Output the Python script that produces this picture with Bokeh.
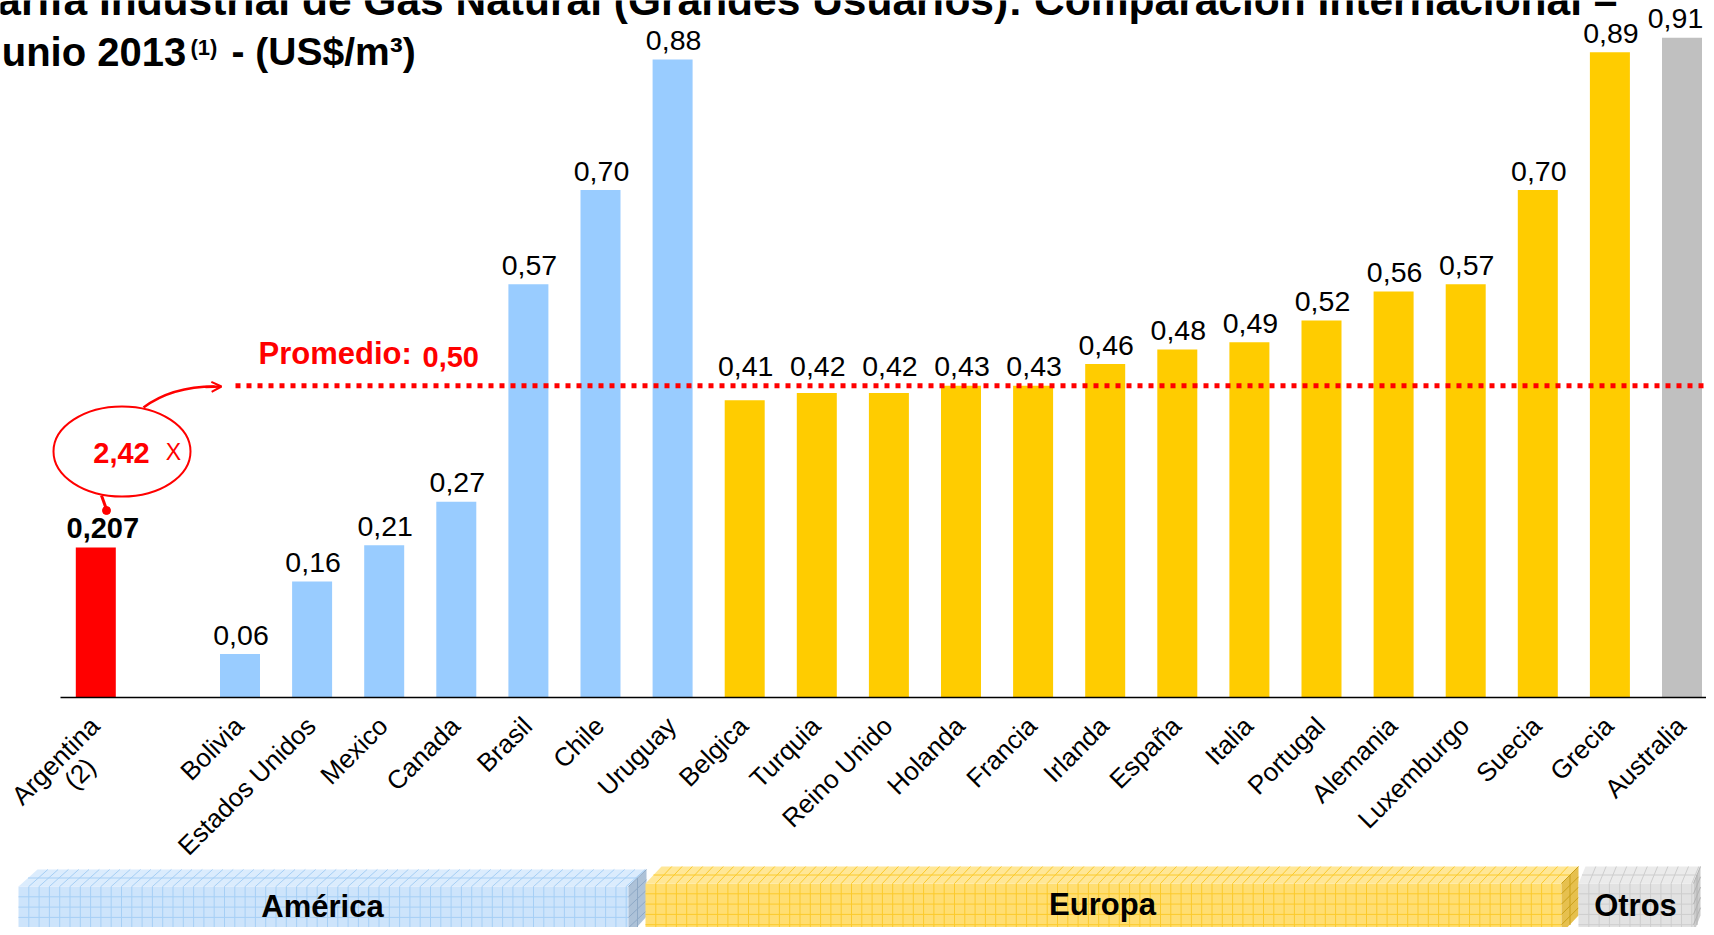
import math
from bokeh.plotting import figure
from bokeh.models import Range1d, ColumnDataSource, Arrow, OpenHead
from bokeh.core.properties import value
from bokeh.embed import file_html
from bokeh.resources import INLINE

# ---------------- data ----------------
titulo_linea1 = "Tarifa Industrial de Gas Natural (Grandes Usuarios): Comparación Internacional –"
titulo_linea2 = "Junio 2013"
titulo_nota = "(1)"
titulo_unidad = "- (US$/m³)"

argentina = ["Argentina\n(2)"]
argentina_valores = [0.207]

america = ["Bolivia", "Estados Unidos", "Mexico", "Canada", "Brasil", "Chile", "Uruguay"]
america_valores = [0.06, 0.16, 0.21, 0.27, 0.57, 0.70, 0.88]

europa = ["Belgica", "Turquia", "Reino Unido", "Holanda", "Francia", "Irlanda", "España",
          "Italia", "Portugal", "Alemania", "Luxemburgo", "Suecia", "Grecia"]
europa_valores = [0.41, 0.42, 0.42, 0.43, 0.43, 0.46, 0.48, 0.49, 0.52, 0.56, 0.57, 0.70, 0.89]

otros = ["Australia"]
otros_valores = [0.91]

grupos = ["América", "Europa", "Otros"]

promedio_texto = "Promedio:"
promedio_valor = 0.50
promedio_linea_nivel = 0.43   # level at which the dotted line is drawn in the original
relacion_texto = "2,42"
relacion_sufijo = "X"

# ---------------- layout helpers (picture pixels -> data) ----------------
W, H = 1706, 927
X0, SX = 95.3, 72.1     # picture x of slot 0, px per slot
Y0, SY = 697.0, 725.0   # picture y of zero, px per unit


def X(px):
    return (px - X0) / SX


def Y(py):
    return (Y0 - py) / SY


FONT = value("Liberation Sans")

p = figure(width=W, height=H, output_backend="svg", toolbar_location=None,
           x_range=Range1d(X(0), X(W)), y_range=Range1d(Y(H), Y(0)),
           x_axis_location=None, y_axis_location=None, min_border=0)
p.outline_line_color = None
p.xgrid.visible = False
p.ygrid.visible = False
p.background_fill_color = "white"

# ---------------- bars ----------------
names, vals, pos, colors = [], [], [], []
names += argentina; vals += argentina_valores; pos += [0]; colors += ["#ff0000"]
start = 2
for grp, gvals, col in ((america, america_valores, "#99ccff"),
                        (europa, europa_valores, "#ffcc00"),
                        (otros, otros_valores, "#c0c0c0")):
    for n, v in zip(grp, gvals):
        names.append(n); vals.append(v); pos.append(start); colors.append(col)
        start += 1

src = ColumnDataSource(dict(x=pos, top=vals, color=colors))
p.vbar(x="x", top="top", bottom=0, width=40 / SX, color="color", line_color=None, source=src)

# axis line
p.segment(x0=[X(60)], y0=[0], x1=[X(1714)], y1=[0], line_color="black", line_width=1.5)

# value labels (lifted above the dotted line where they would collide with it)
line_px = Y0 - promedio_linea_nivel * SY
lab_x, lab_y, lab_t = [], [], []
for i in range(1, len(vals)):
    top_px = Y0 - vals[i] * SY
    c = top_px - 19
    if line_px < top_px < line_px + 40:
        c = line_px - 19
    cx = min(X0 + pos[i] * SX + 1, W - 31)   # keep the last label inside the picture
    lab_x.append(X(cx))
    lab_y.append(Y(c))
    lab_t.append(f"{vals[i]:.2f}".replace(".", ","))
p.text(x=lab_x, y=lab_y, text=lab_t, text_font=FONT, text_font_size="28.5px",
       text_align="center", text_baseline="middle", text_color="black")
p.text(x=[pos[0] + 7 / SX], y=[Y(Y0 - vals[0] * SY - 19)],
       text=[f"{vals[0]:.3f}".replace(".", ",")], text_font=FONT, text_font_size="29px",
       text_font_style="bold", text_align="center", text_baseline="middle", text_color="black")

# category labels (rotated)
cat_x, cat_y, cat_t = [], [], []
for i, n in enumerate(names):
    cat_x.append(pos[i] - 1 / SX)
    cat_y.append(Y(Y0 + 24))
    cat_t.append(n.split("\n")[0])
p.text(x=cat_x, y=cat_y, text=cat_t, angle=math.pi / 4, text_font=FONT, text_font_size="26px",
       text_align="right", text_baseline="middle", text_color="black")
second = argentina[0].split("\n")[1]
p.text(x=[pos[0] + (-1 - 15) / SX], y=[Y(Y0 + 24 + 52)], text=[second], angle=math.pi / 4,
       text_font=FONT, text_font_size="26px", text_align="center", text_baseline="middle",
       text_color="black")

# ---------------- promedio line & labels ----------------
p.line(x=[X(235), X(1710)], y=[promedio_linea_nivel, promedio_linea_nivel], line_color="#ff0000",
       line_width=5, line_dash="5 6", line_cap="butt")
p.text(x=[X(258)], y=[Y(353)], text=[promedio_texto], text_font=FONT, text_font_size="31px",
       text_font_style="bold", text_color="#ff0000", text_align="left", text_baseline="middle")
p.text(x=[X(422)], y=[Y(356)], text=[f"{promedio_valor:.2f}".replace(".", ",")], text_font=FONT,
       text_font_size="29px", text_font_style="bold", text_color="#ff0000", text_align="left",
       text_baseline="middle")

# ellipse annotation
p.ellipse(x=[X(121.5)], y=[Y(451)], width=137 / SX, height=90 / SY, fill_color=None,
          line_color="#ff0000", line_width=2)
p.text(x=[X(121)], y=[Y(452)], text=[relacion_texto], text_font=FONT, text_font_size="29px",
       text_font_style="bold", text_color="#ff0000", text_align="center", text_baseline="middle")
p.text(x=[X(173)], y=[Y(451)], text=[relacion_sufijo], text_font=FONT, text_font_size="23px",
       text_color="#ff0000", text_align="center", text_baseline="middle")
# tail
p.line(x=[X(101), X(106)], y=[Y(495), Y(509)], line_color="#ff0000", line_width=3)
p.scatter(x=[X(106)], y=[Y(510)], size=8, color="#ff0000")
# curved arrow
p.bezier(x0=[X(143)], y0=[Y(407)], x1=[X(214)], y1=[Y(386)], cx0=[X(163)], cy0=[Y(392)],
         cx1=[X(188)], cy1=[Y(386)], line_color="#ff0000", line_width=2.5)
p.add_layout(Arrow(end=OpenHead(size=10, line_color="#ff0000", line_width=2),
                   x_start=X(205), y_start=Y(386.5), x_end=X(221), y_end=Y(386),
                   line_color="#ff0000", line_width=2.5))

# ---------------- title ----------------
p.text(x=[X(-26)], y=[Y(0)], text=[titulo_linea1], text_font=FONT, text_font_size="42.5px",
       text_font_style="bold", text_color="black", text_align="left", text_baseline="middle")
p.text(x=[X(-21)], y=[Y(51)], text=[titulo_linea2], text_font=FONT, text_font_size="40px",
       text_font_style="bold", text_color="black", text_align="left", text_baseline="middle")
p.text(x=[X(190)], y=[Y(47)], text=[titulo_nota], text_font=FONT, text_font_size="22px",
       text_font_style="bold", text_color="black", text_align="left", text_baseline="middle")
p.text(x=[X(231)], y=[Y(51)], text=[titulo_unidad], text_font=FONT, text_font_size="39px",
       text_font_style="bold", text_color="black", text_align="left", text_baseline="middle")


# ---------------- group bands (3D graph-paper boxes) ----------------
def band(xl, xr, xt, ytop, yft, ybot, ysb, slant, front, top, side, grid, sgrid, label, lx, ly):
    g = 10.3
    dy = yft - ytop
    p.patches(xs=[[X(xl), X(xr), X(xr), X(xl)]], ys=[[Y(yft), Y(yft), Y(ybot), Y(ybot)]],
              fill_color=front, line_color=None)
    p.patches(xs=[[X(xl), X(xl + slant), X(xt), X(xr)]], ys=[[Y(yft), Y(ytop), Y(ytop), Y(yft)]],
              fill_color=top, line_color=None)
    p.patches(xs=[[X(xr), X(xt), X(xt), X(xr)]], ys=[[Y(yft), Y(ytop), Y(ysb), Y(ybot)]],
              fill_color=side, line_color=None)
    x0s, y0s, x1s, y1s = [], [], [], []
    k = 1
    while xl + k * g < xr - 1:
        x = xl + k * g
        x0s.append(X(x)); y0s.append(Y(yft)); x1s.append(X(x)); y1s.append(Y(ybot))
        if x + slant <= xt:
            x0s.append(X(x)); y0s.append(Y(yft)); x1s.append(X(x + slant)); y1s.append(Y(ytop))
        k += 1
    k = 1
    while yft + k * g < ybot:
        y = yft + k * g
        x0s.append(X(xl)); y0s.append(Y(y)); x1s.append(X(xr)); y1s.append(Y(y))
        k += 1
    x0s.append(X(xl + slant / 2)); y0s.append(Y(ytop + dy / 2))
    x1s.append(X(xr + (xt - xr) / 2)); y1s.append(Y(ytop + dy / 2))
    p.segment(x0=x0s, y0=y0s, x1=x1s, y1=y1s, line_color=grid, line_width=1)
    sx0, sy0, sx1, sy1 = [], [], [], []
    k = 0
    while yft + k * g < ybot - 2:
        y = yft + k * g
        sx0.append(X(xr)); sy0.append(Y(y)); sx1.append(X(xt)); sy1.append(Y(y - dy))
        k += 1
    sx0.append(X((xr + xt) / 2)); sy0.append(Y(yft - dy / 2))
    sx1.append(X((xr + xt) / 2)); sy1.append(Y(ybot - dy / 2))
    p.segment(x0=sx0, y0=sy0, x1=sx1, y1=sy1, line_color=sgrid, line_width=1)
    p.text(x=[X(lx)], y=[Y(ly)], text=[label], text_font=FONT, text_font_size="31px",
           text_font_style="bold", text_color="black", text_align="center", text_baseline="middle")


band(18, 628, 646, 869, 886, 936, 916, 19, "#cde4fb", "#dbecfd", "#adc2d8", "#a6cff5", "#8ea9c6",
     grupos[0], 322, 906)
band(645, 1561, 1578, 866, 883, 933, 915, 16, "#ffde72", "#ffe797", "#e6c04e", "#fbca2c", "#c9a01a",
     grupos[1], 1102, 904)
band(1578, 1693, 1700, 866, 883, 933, 915, 7, "#e2e2e2", "#ebebeb", "#cbcbcb", "#cdcdcd", "#b2b2b2",
     grupos[2], 1635, 905)

open("out.html", "w").write(file_html(p, INLINE))
